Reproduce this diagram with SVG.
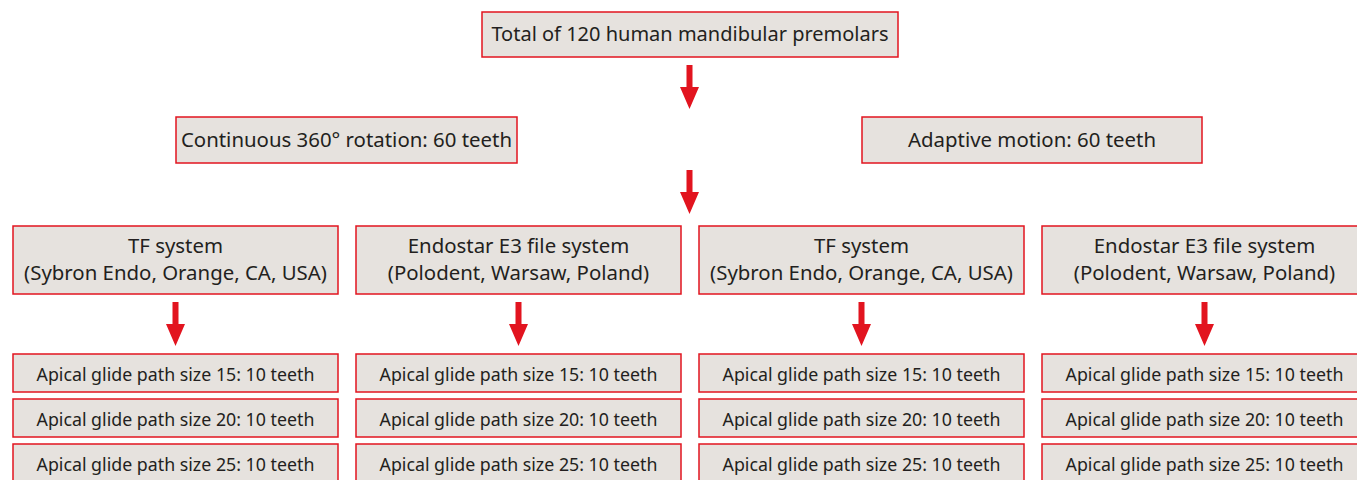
<svg xmlns="http://www.w3.org/2000/svg" width="1357" height="480" viewBox="0 0 1357 480">
<style>
.box{fill:#e6e2de;stroke:#e2141f;stroke-width:1.5}
text{font-family:"Noto Sans","Liberation Sans",sans-serif;fill:#231f20;text-anchor:middle}
.t1{font-size:20px}
.t2{font-size:20.4px}
.t3{font-size:17.8px}
.arr{fill:#e2141f}
</style>
<defs>
<path id="arrow" class="arr" d="M-3,0 H3 V22 H9.5 L0,44 L-9.5,22 H-3 Z"/>
</defs>
<rect width="1357" height="480" fill="#fff"/>
<g id="connectors">
<use href="#arrow" x="689.5" y="65"/>
<use href="#arrow" x="689.5" y="170"/>
<use href="#arrow" x="175.5" y="302"/>
<use href="#arrow" x="518.5" y="302"/>
<use href="#arrow" x="861.5" y="302"/>
<use href="#arrow" x="1204.5" y="302"/>
</g>
<g id="n-total"><rect class="box" x="482" y="12" width="416" height="45"/><text class="t1" x="690" y="41">Total of 120 human mandibular premolars</text></g>
<g id="n-continuous"><rect class="box" x="176" y="117" width="341" height="46"/><text class="t2" x="346.5" y="147">Continuous 360° rotation: 60 teeth</text></g>
<g id="n-adaptive"><rect class="box" x="862" y="117" width="340" height="46"/><text class="t2" x="1032" y="147">Adaptive motion: 60 teeth</text></g>
<g id="n-tf1"><rect class="box" x="13" y="226" width="325" height="68"/><text class="t2" x="175.5" y="253">TF system</text><text class="t2" x="175.5" y="280">(Sybron Endo, Orange, CA, USA)</text></g>
<g id="n-e3a"><rect class="box" x="356" y="226" width="325" height="68"/><text class="t2" x="518.5" y="253">Endostar E3 file system</text><text class="t2" x="518.5" y="280">(Polodent, Warsaw, Poland)</text></g>
<g id="n-tf2"><rect class="box" x="699" y="226" width="325" height="68"/><text class="t2" x="861.5" y="253">TF system</text><text class="t2" x="861.5" y="280">(Sybron Endo, Orange, CA, USA)</text></g>
<g id="n-e3b"><rect class="box" x="1042" y="226" width="325" height="68"/><text class="t2" x="1204.5" y="253">Endostar E3 file system</text><text class="t2" x="1204.5" y="280">(Polodent, Warsaw, Poland)</text></g>
<g id="n-a15"><rect class="box" x="13" y="354" width="325" height="38"/><text class="t3" x="175.5" y="380.5">Apical glide path size 15: 10 teeth</text></g>
<g id="n-a20"><rect class="box" x="13" y="399" width="325" height="38"/><text class="t3" x="175.5" y="425.5">Apical glide path size 20: 10 teeth</text></g>
<g id="n-a25"><rect class="box" x="13" y="444" width="325" height="38"/><text class="t3" x="175.5" y="470.5">Apical glide path size 25: 10 teeth</text></g>
<g id="n-b15"><rect class="box" x="356" y="354" width="325" height="38"/><text class="t3" x="518.5" y="380.5">Apical glide path size 15: 10 teeth</text></g>
<g id="n-b20"><rect class="box" x="356" y="399" width="325" height="38"/><text class="t3" x="518.5" y="425.5">Apical glide path size 20: 10 teeth</text></g>
<g id="n-b25"><rect class="box" x="356" y="444" width="325" height="38"/><text class="t3" x="518.5" y="470.5">Apical glide path size 25: 10 teeth</text></g>
<g id="n-c15"><rect class="box" x="699" y="354" width="325" height="38"/><text class="t3" x="861.5" y="380.5">Apical glide path size 15: 10 teeth</text></g>
<g id="n-c20"><rect class="box" x="699" y="399" width="325" height="38"/><text class="t3" x="861.5" y="425.5">Apical glide path size 20: 10 teeth</text></g>
<g id="n-c25"><rect class="box" x="699" y="444" width="325" height="38"/><text class="t3" x="861.5" y="470.5">Apical glide path size 25: 10 teeth</text></g>
<g id="n-d15"><rect class="box" x="1042" y="354" width="325" height="38"/><text class="t3" x="1204.5" y="380.5">Apical glide path size 15: 10 teeth</text></g>
<g id="n-d20"><rect class="box" x="1042" y="399" width="325" height="38"/><text class="t3" x="1204.5" y="425.5">Apical glide path size 20: 10 teeth</text></g>
<g id="n-d25"><rect class="box" x="1042" y="444" width="325" height="38"/><text class="t3" x="1204.5" y="470.5">Apical glide path size 25: 10 teeth</text></g>
</svg>
